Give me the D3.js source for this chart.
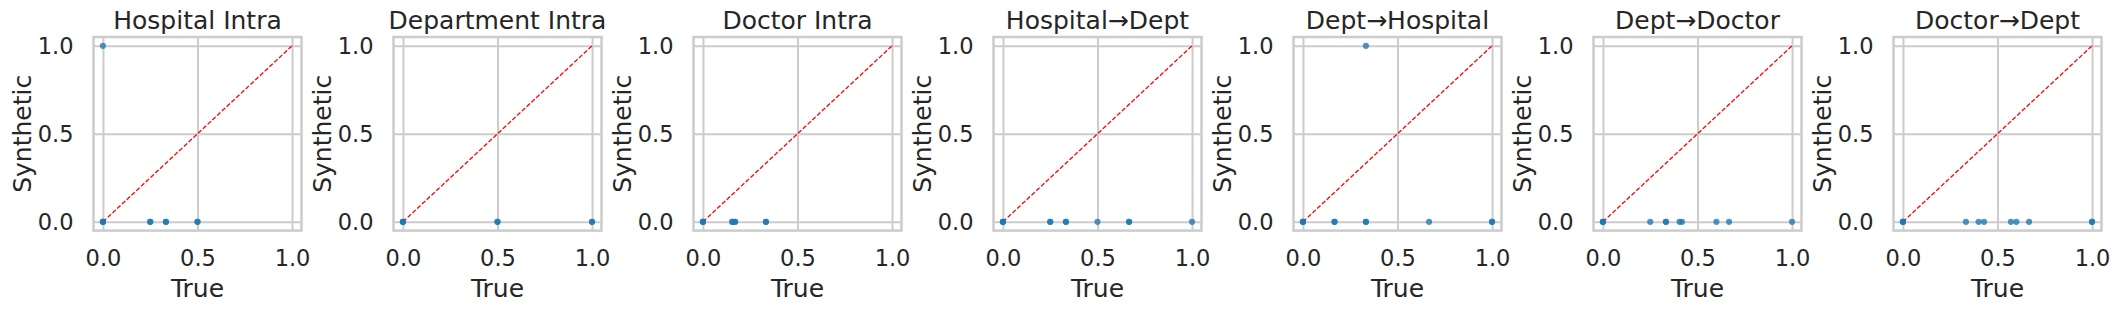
<!DOCTYPE html>
<html>
<head>
<meta charset="utf-8">
<script src="https://cdn.jsdelivr.net/npm/d3@7"></script>
<style>
  body { margin: 0; background: #fff; }
  svg text { font-family: "DejaVu Sans", sans-serif; fill: #262626; }
</style>
</head>
<body>
<div id="chart"></div>
<script>
// panel titles, left to right
const titles = ["Hospital Intra", "Department Intra", "Doctor Intra",
  "Hospital\u2192Dept", "Dept\u2192Hospital", "Dept\u2192Doctor", "Doctor\u2192Dept"];

// true vs synthetic values per panel (repeats = overlapping points)
const hospIntraTrue = [0, 0, 0, 0, 0.25, 0.25, 0.333, 0.333, 0.5, 0.5];
const hospIntraSyn  = [1, 0, 0, 0, 0, 0, 0, 0, 0, 0];

const deptIntraTrue = [0, 0, 0, 0.5, 0.5, 1, 1];
const deptIntraSyn  = [0, 0, 0, 0, 0, 0, 0];

const docIntraTrue = [0, 0, 0, 0.155, 0.155, 0.17, 0.17, 0.333, 0.333];
const docIntraSyn  = [0, 0, 0, 0, 0, 0, 0, 0, 0];

const hospDeptTrue = [0, 0, 0, 0.25, 0.25, 0.333, 0.333, 0.5, 0.667, 0.667, 1];
const hospDeptSyn  = [0, 0, 0, 0, 0, 0, 0, 0, 0, 0, 0];

const deptHospTrue = [0.333, 0, 0, 0, 0.167, 0.167, 0.333, 0.333, 0.667, 1, 1];
const deptHospSyn  = [1, 0, 0, 0, 0, 0, 0, 0, 0, 0, 0];

const deptDocTrue = [0, 0, 0, 0.25, 0.333, 0.333, 0.405, 0.418, 0.6, 0.667, 1];
const deptDocSyn  = [0, 0, 0, 0, 0, 0, 0, 0, 0, 0, 0];

const docDeptTrue = [0, 0, 0, 0.333, 0.4, 0.429, 0.571, 0.6, 0.667, 1, 1];
const docDeptSyn  = [0, 0, 0, 0, 0, 0, 0, 0, 0, 0, 0];

const panelTrue = [hospIntraTrue, deptIntraTrue, docIntraTrue, hospDeptTrue, deptHospTrue, deptDocTrue, docDeptTrue];
const panelSyn  = [hospIntraSyn, deptIntraSyn, docIntraSyn, hospDeptSyn, deptHospSyn, deptDocSyn, docDeptSyn];

const tickVals = [0, 0.5, 1];
const tickLabels = ["0.0", "0.5", "1.0"];

const totalW = 2120, totalH = 311;
const panelStep = 300,
    margin = {top: 37, left: 93.5},
    width = 208,
    height = 193.6;

const x = d3.scaleLinear().domain([-0.05, 1.05]).range([0, width]);
const y = d3.scaleLinear().domain([-0.05, 1.05]).range([height, 0]);

const svg = d3.select("#chart").append("svg")
  .attr("width", totalW)
  .attr("height", totalH);

titles.forEach((title, i) => {
  const g = svg.append("g")
    .attr("transform", "translate(" + (margin.left + i * panelStep) + " " + margin.top + ")");

  /* grid via axes */
  const xAxis = g.append("g")
    .attr("transform", "translate(0 " + height + ")")
    .call(d3.axisBottom(x).tickValues(tickVals).tickSize(-height).tickPadding(19.5)
      .tickFormat((d, j) => tickLabels[j]));
  const yAxis = g.append("g")
    .call(d3.axisLeft(y).tickValues(tickVals).tickSize(-width).tickPadding(20)
      .tickFormat((d, j) => tickLabels[j]));

  [xAxis, yAxis].forEach(a => {
    a.select(".domain").remove();
    a.selectAll(".tick line").attr("stroke", "#cccccc").attr("stroke-width", 2);
    a.selectAll(".tick text").style("font-size", "22.5px").attr("fill", "#262626");
  });
  xAxis.selectAll(".tick text").attr("dy", "0.71em");
  yAxis.selectAll(".tick text").attr("dy", "0.36em");

  /* frame */
  g.append("rect")
    .attr("width", width)
    .attr("height", height)
    .attr("fill", "none")
    .attr("stroke", "#cccccc")
    .attr("stroke-width", 2.5);

  /* identity line */
  g.append("line")
    .attr("x1", x(0)).attr("y1", y(0))
    .attr("x2", x(1)).attr("y2", y(1))
    .attr("stroke", "red")
    .attr("stroke-width", 1.3)
    .attr("stroke-dasharray", "4.5,2");

  /* points */
  const pts = panelTrue[i].map((t, k) => [t, panelSyn[i][k]]);
  g.selectAll("circle.pt").data(pts).enter().append("circle")
    .attr("class", "pt")
    .attr("cx", d => x(d[0]))
    .attr("cy", d => y(d[1]))
    .attr("r", 3.1)
    .attr("fill", "#1f77b4")
    .attr("fill-opacity", 0.78);

  /* title and axis labels */
  g.append("text")
    .attr("x", width / 2)
    .attr("y", -8.5)
    .attr("text-anchor", "middle")
    .style("font-size", "25px")
    .text(title);

  g.append("text")
    .attr("x", width / 2)
    .attr("y", 260)
    .attr("text-anchor", "middle")
    .style("font-size", "25px")
    .text("True");

  g.append("text")
    .attr("transform", "translate(-63 " + (height / 2) + ") rotate(-90)")
    .attr("text-anchor", "middle")
    .style("font-size", "25px")
    .text("Synthetic");
});
</script>
</body>
</html>
